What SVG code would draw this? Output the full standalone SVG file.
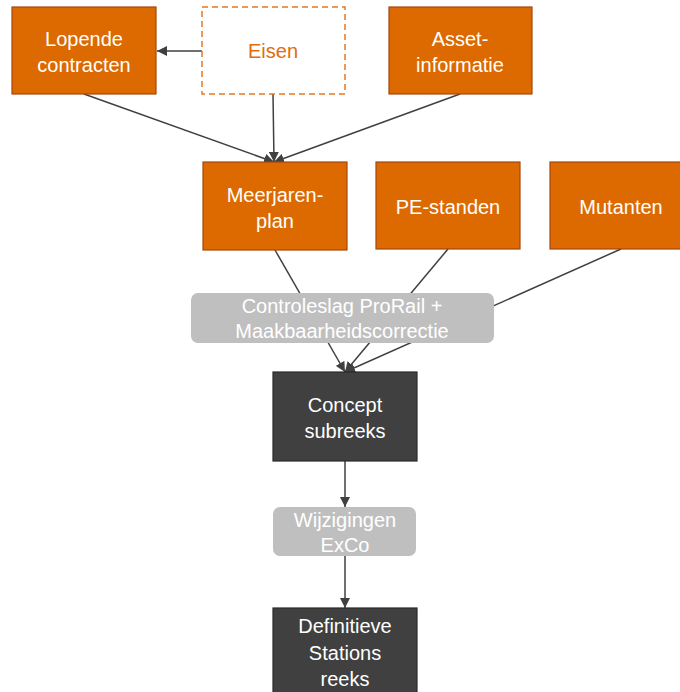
<svg xmlns="http://www.w3.org/2000/svg" width="680" height="692" viewBox="0 0 680 692">
  <defs>
    <marker id="arrow" viewBox="0 0 10 10" refX="10" refY="5" markerWidth="10" markerHeight="10" markerUnits="userSpaceOnUse" orient="auto">
      <path d="M0,0 L10,5 L0,10 z" fill="#404040"/>
    </marker>
    <style>
      text { font-family: "Liberation Sans", Arial, sans-serif; font-size: 20px; text-anchor: middle; }
      .src rect { fill: #DC6A00; stroke: #A5470C; stroke-width: 1.2; }
      .src text { fill: #FFFFFF; }
      .req rect { fill: #FFFFFF; stroke: #E87722; stroke-width: 1.5; stroke-dasharray: 6 4; }
      .req text { fill: #E36C0A; }
      .step rect { fill: #BFBFBF; }
      .step text { fill: #FFFFFF; }
      .out rect { fill: #404040; stroke: #2A2A2A; stroke-width: 1.2; }
      .out text { fill: #FFFFFF; }
      .edge { stroke: #404040; stroke-width: 1.5; fill: none; }
    </style>
  </defs>
  <rect width="680" height="692" fill="#FFFFFF"/>

  <!-- connectors (drawn first so the step boxes sit on top) -->
  <g id="connectors">
    <line class="edge" x1="202" y1="51" x2="157" y2="51" marker-end="url(#arrow)"/>
    <line class="edge" x1="273" y1="94" x2="274" y2="162" marker-end="url(#arrow)"/>
    <line class="edge" x1="84" y1="94" x2="274" y2="162" marker-end="url(#arrow)"/>
    <line class="edge" x1="460" y1="94" x2="274" y2="162" marker-end="url(#arrow)"/>
    <line class="edge" x1="275" y1="250" x2="345" y2="372" marker-end="url(#arrow)"/>
    <line class="edge" x1="448" y1="249" x2="345" y2="372" marker-end="url(#arrow)"/>
    <line class="edge" x1="621" y1="249" x2="345" y2="372" marker-end="url(#arrow)"/>
    <line class="edge" x1="345" y1="461" x2="345" y2="507" marker-end="url(#arrow)"/>
    <line class="edge" x1="345" y1="556" x2="345" y2="608" marker-end="url(#arrow)"/>
  </g>

  <g id="lopende-contracten" class="src">
    <rect x="12" y="7" width="144" height="87"/>
    <text x="84" y="46">Lopende</text>
    <text x="84" y="72">contracten</text>
  </g>

  <g id="eisen" class="req">
    <rect x="202" y="7" width="143" height="87"/>
    <text x="273" y="58">Eisen</text>
  </g>

  <g id="asset-informatie" class="src">
    <rect x="389" y="7" width="143" height="87"/>
    <text x="460" y="46">Asset-</text>
    <text x="460" y="72">informatie</text>
  </g>

  <g id="meerjarenplan" class="src">
    <rect x="203" y="162" width="144" height="88"/>
    <text x="275" y="202">Meerjaren-</text>
    <text x="275" y="228">plan</text>
  </g>

  <g id="pe-standen" class="src">
    <rect x="376" y="162" width="144" height="87"/>
    <text x="448" y="214">PE-standen</text>
  </g>

  <g id="mutanten" class="src">
    <rect x="550" y="162" width="144" height="87"/>
    <text x="621" y="214">Mutanten</text>
  </g>

  <g id="controleslag" class="step">
    <rect x="191" y="293" width="303" height="50" rx="7"/>
    <text x="342" y="313">Controleslag ProRail +</text>
    <text x="342" y="338">Maakbaarheidscorrectie</text>
  </g>

  <g id="concept-subreeks" class="out">
    <rect x="273" y="372" width="144" height="89"/>
    <text x="345" y="412">Concept</text>
    <text x="345" y="438">subreeks</text>
  </g>

  <g id="wijzigingen-exco" class="step">
    <rect x="273" y="507" width="143" height="49" rx="7"/>
    <text x="345" y="527">Wijzigingen</text>
    <text x="345" y="552">ExCo</text>
  </g>

  <g id="definitieve-stations-reeks" class="out">
    <rect x="273" y="608" width="144" height="90"/>
    <text x="345" y="633">Definitieve</text>
    <text x="345" y="660">Stations</text>
    <text x="345" y="686">reeks</text>
  </g>
</svg>
